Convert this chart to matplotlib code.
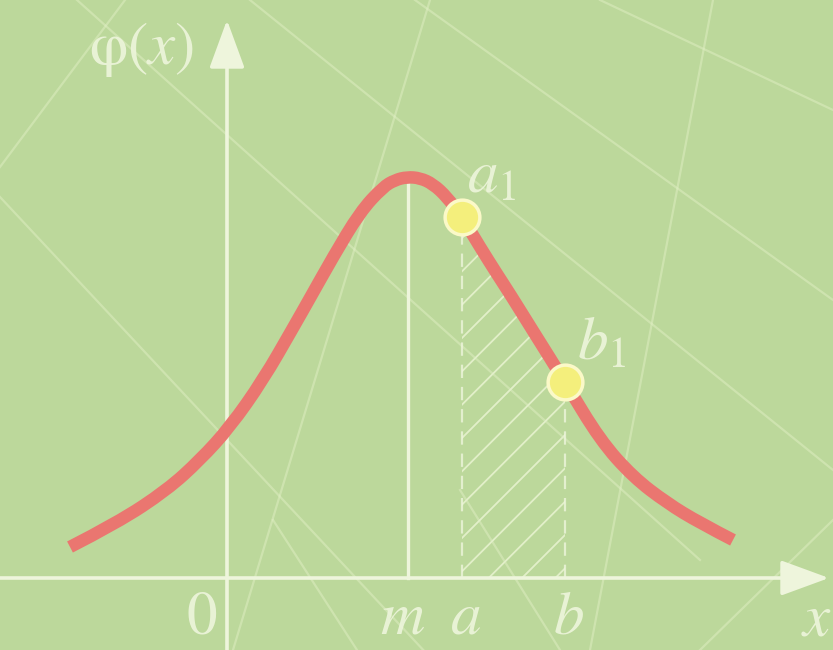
import matplotlib
matplotlib.use("Agg")
import matplotlib.pyplot as plt
import numpy as np
from matplotlib.path import Path
from matplotlib.patches import PathPatch

# curve phi(x) (x units: 100 px, origin at the axes cross)
curve_x = [-1.60, -1.13, -0.63, -0.30, 0.00, 0.33, 0.63, 0.80, 1.03, 1.30, 1.53,
           1.65, 1.77, 1.90, 2.03, 2.17, 2.32, 2.50, 2.67, 2.80, 3.03, 3.35,
           3.70, 4.03, 4.37, 4.70, 5.03]
curve_y = [0.31, 0.55, 0.88, 1.18, 1.51, 1.98, 2.50, 2.80, 3.21, 3.66, 3.91,
           3.98, 4.01, 4.00, 3.94, 3.81, 3.61, 3.31, 3.04, 2.84, 2.47, 1.96,
           1.38, 1.01, 0.75, 0.55, 0.38]

m_x = 1.78
m_top = 4.01
a_x, a_y = 2.32, 3.61
b_x, b_y = 3.35, 1.96

tick_labels = ["0", "m", "a", "b"]
tick_pos = [-0.28, 1.73, 2.36, 3.38]

# faint background texture (pixel segments of the page decoration)
texture = [
    ((0, 167), (140, -20)),
    ((77, 0), (700, 560)),
    ((600, 0), (833, 110)),
    ((415, 0), (833, 300)),
    ((713, 0), (590, 650)),
    ((0, 197), (470, 700)),
    ((233, 650), (430, 0)),
    ((273, 520), (357, 650)),
    ((460, 490), (560, 650)),
    ((250, 0), (833, 470)),
    ((833, 520), (700, 650)),
]

bg = "#bcd89b"
light = "#eef5dc"
red = "#ea7670"

plt.rcParams["mathtext.fontset"] = "stix"
plt.rcParams["font.family"] = "STIXGeneral"
plt.rcParams["hatch.linewidth"] = 1.3

W, H = 833, 650
fig = plt.figure(figsize=(W / 100, H / 100), dpi=100, facecolor=bg)
ax = fig.add_axes([0, 0, 1, 1])
ax.set_facecolor(bg)
ax.set_xlim(-2.30, -2.30 + W / 100)
ax.set_ylim(-0.72, -0.72 + H / 100)
ax.axis("off")

for (x0, y0), (x1, y1) in texture:
    ax.plot([x0 / W, x1 / W], [1 - y0 / H, 1 - y1 / H], transform=ax.transAxes,
            color="#e4f2c8", lw=1.6, alpha=0.45, zorder=0)

# axes with arrows
arrow = "-|>,head_length=1.5,head_width=0.55"
ax.annotate("", xy=(5.99, 0), xytext=(-2.35, 0),
            arrowprops=dict(arrowstyle=arrow, color=light, lw=2.6,
                            shrinkA=0, shrinkB=0, mutation_scale=20))
ax.annotate("", xy=(-0.03, 5.58), xytext=(-0.03, -0.8),
            arrowprops=dict(arrowstyle=arrow, color=light, lw=2.6,
                            shrinkA=0, shrinkB=0, mutation_scale=20))

# hatched area between a and b
cx = np.array(curve_x)
cy = np.array(curve_y)
sel = (cx >= a_x) & (cx <= b_x)
ax.fill_between(cx[sel], 0, cy[sel], facecolor="none", edgecolor="#e2efc9",
                hatch="/", lw=0, zorder=1)

ax.plot([m_x, m_x], [0, m_top], color=light, lw=2.4, zorder=2)
ax.plot([a_x, a_x], [0, a_y], color=light, lw=1.6, ls=(0, (6, 4)), alpha=0.8, zorder=2)
ax.plot([b_x, b_x], [0, b_y], color=light, lw=1.6, ls=(0, (6, 4)), alpha=0.8, zorder=2)

# smooth the read points with quadratic bezier segments through the midpoints
pts = np.column_stack([cx, cy])
verts = [pts[0]]
codes = [Path.MOVETO]
for i in range(1, len(pts) - 1):
    mid = (pts[i] + pts[i + 1]) / 2 if i < len(pts) - 2 else pts[i + 1]
    verts += [pts[i], mid]
    codes += [Path.CURVE3, Path.CURVE3]
ax.add_patch(PathPatch(Path(verts, codes), facecolor="none", edgecolor=red,
                       lw=9, capstyle="butt", joinstyle="round", zorder=3))

ax.plot([a_x, b_x], [a_y, b_y], "o", ms=25, mfc="#f4ef7c", mec="#fbf9c8",
        mew=2.5, zorder=4)

txt = dict(color=light, fontsize=44, alpha=0.9, va="baseline")
for lab, xp in zip(tick_labels, tick_pos):
    s = lab if lab == "0" else f"${lab}$"
    ax.text(xp, -0.55, s, ha="center", **txt)
ax.text(5.86, -0.58, "$x$", ha="center", **txt)
ax.text(-0.36, 5.14, "φ($x$)", ha="right", **txt)
ax.text(a_x + 0.05, a_y + 0.24, "$a_1$", ha="left", **txt)
ax.text(b_x + 0.12, b_y + 0.22, "$b_1$", ha="left", **txt)

fig.savefig("out.png", dpi=100, facecolor=bg)
